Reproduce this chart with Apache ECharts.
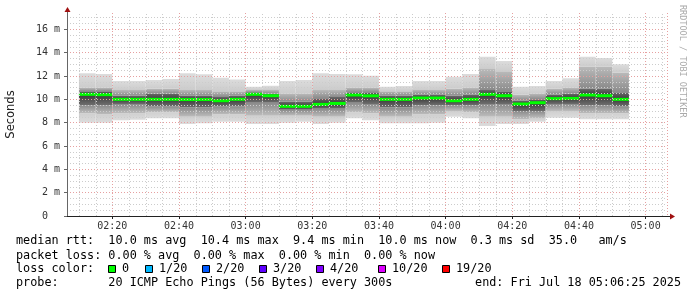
<!DOCTYPE html>
<html>
	<head>
		<meta charset="UTF-8">
		<title>smokeping</title>
		<style>
			html, body { margin: 0; padding: 0; background: #fff; }
			#chart { width: 697px; height: 297px; }
		</style>
	</head>
	<body>
		<div id="chart"></div>

		<script src="https://cdn.jsdelivr.net/npm/echarts@6.0.0/dist/echarts.min.js"></script>
		<script>
			// 5 分钟一个采样，起始时间
			var slots = ['02:10', '02:15', '02:20', '02:25', '02:30', '02:35', '02:40', '02:45', '02:50', '02:55',
				'03:00', '03:05', '03:10', '03:15', '03:20', '03:25', '03:30', '03:35', '03:40', '03:45',
				'03:50', '03:55', '04:00', '04:05', '04:10', '04:15', '04:20', '04:25', '04:30', '04:35',
				'04:40', '04:45', '04:50'];

			// rtt (ms): 最小、分位、中位、最大
			var rttMin = [8.0, 8.0, 8.2, 8.25, 8.37, 8.37, 7.88, 7.95, 8.08, 8.08, 7.88, 7.88, 8.0, 8.08, 7.88, 8.0, 8.37, 8.2, 7.95, 7.95, 7.95, 8.0, 8.5, 8.37, 7.71, 7.88, 7.88, 8.08, 8.43, 8.43, 8.3, 8.3, 8.3];
			var rttP10 = [8.8, 8.7, 8.8, 8.8, 8.9, 8.9, 8.5, 8.5, 8.7, 8.7, 8.6, 8.6, 8.6, 8.6, 8.5, 8.5, 8.9, 8.8, 8.5, 8.5, 8.7, 8.7, 9.0, 8.9, 8.5, 8.5, 8.3, 8.4, 9.0, 9.0, 8.8, 8.8, 8.8];
			var rttP30 = [9.5, 9.5, 9.6, 9.6, 9.4, 9.4, 9.3, 9.3, 9.4, 9.4, 9.7, 9.7, 9.1, 9.1, 9.2, 9.2, 9.7, 9.6, 9.3, 9.3, 9.5, 9.5, 9.5, 9.5, 9.6, 9.6, 9.0, 9.0, 9.6, 9.6, 9.5, 9.5, 9.4];
			var rttMedian = [10.43, 10.4, 10.0, 10.0, 10.0, 10.0, 9.98, 9.98, 9.88, 10.0, 10.43, 10.31, 9.4, 9.4, 9.57, 9.65, 10.37, 10.3, 10.0, 10.0, 10.11, 10.11, 9.88, 10.0, 10.43, 10.31, 9.6, 9.71, 10.06, 10.08, 10.37, 10.31, 10.0];
			var rttP70 = [10.7, 10.7, 10.3, 10.3, 10.5, 10.5, 10.3, 10.3, 10.2, 10.3, 10.6, 10.5, 9.8, 9.8, 10.1, 10.2, 10.6, 10.6, 10.3, 10.3, 10.4, 10.4, 10.3, 10.4, 10.8, 10.7, 9.9, 10.0, 10.4, 10.5, 10.9, 10.9, 10.6];
			var rttP90 = [11.0, 11.0, 10.8, 10.8, 10.9, 10.9, 10.8, 10.8, 10.7, 10.7, 10.8, 10.8, 10.5, 10.5, 10.8, 10.8, 11.0, 11.0, 10.7, 10.7, 10.8, 10.8, 10.9, 11.0, 12.6, 12.4, 10.4, 10.5, 10.9, 11.0, 12.8, 12.8, 12.3];
			var rttMax = [12.23, 12.17, 11.57, 11.57, 11.65, 11.74, 12.23, 12.14, 11.85, 11.7, 11.08, 11.17, 11.57, 11.65, 12.23, 12.17, 12.14, 12.03, 11.08, 11.14, 11.57, 11.57, 11.94, 12.17, 13.65, 13.28, 11.08, 11.14, 11.57, 11.8, 13.65, 13.54, 13.0];

			// 图例
			var lossLabels = ['0', '1/20', '2/20', '3/20', '4/20', '10/20', '19/20'];
			var lossColors = ['#00ff00', '#00b8ff', '#0059ff', '#5e00ff', '#7e00ff', '#dd00ff', '#ff0000'];
			var lossLabelX = [122, 159, 216, 273, 330, 392, 456];
			var legendLines = [
				'median rtt:  10.0 ms avg  10.4 ms max  9.4 ms min  10.0 ms now  0.3 ms sd  35.0   am/s',
				'packet loss: 0.00 % avg  0.00 % max  0.00 % min  0.00 % now',
				'loss color:',
				'probe:       20 ICMP Echo Pings (56 Bytes) every 300s'
			];

			var STEP = 5 * 60 * 1000;
			function toTime(hhmm, sec) {
				var p = hhmm.split(':');
				return new Date(2025, 6, 18, +p[0], +p[1], sec || 0).getTime();
			}
			var tMin = toTime('02:06', 25);
			var tMax = toTime('05:06', 25);
			var yMax = 17.4;

			var smokeData = [];
			for (var i = 0; i < slots.length; i++) {
				var t0 = toTime(slots[i]);
				smokeData.push([t0, t0 + STEP, rttMin[i], rttP10[i], rttP30[i], rttMedian[i], rttP70[i], rttP90[i], rttMax[i]]);
			}

			// 5 分钟的次网格线
			var minorTimes = [];
			for (var t = toTime('02:10'); t < tMax; t += STEP) {
				if (((t - toTime('02:00')) / STEP) % 4 !== 0) minorTimes.push([t]);
			}

			function grad(c0, c1) {
				return { type: 'linear', x: 0, y: 0, x2: 0, y2: 1, colorStops: [{ offset: 0, color: c0 }, { offset: 1, color: c1 }] };
			}
			// 由外到内颜色渐深
			var bandFills = [
				grad('#cfcfcf', '#dcdcdc'),
				grad('#8a8a8a', '#bdbdbd'),
				grad('#3a3a3a', '#6e6e6e'),
				grad('#6a6a6a', '#3a3a3a'),
				grad('#bababa', '#8a8a8a'),
				grad('#dcdcdc', '#cccccc')
			];
			var bandIdx = [[2, 3], [3, 4], [4, 5], [5, 6], [6, 7], [7, 8]];

			function renderSmoke(params, api) {
				var x0 = api.coord([api.value(0), 0])[0];
				var x1 = api.coord([api.value(1), 0])[0];
				var children = [];
				for (var k = 0; k < bandIdx.length; k++) {
					var yLo = api.coord([api.value(0), api.value(bandIdx[k][0])])[1];
					var yHi = api.coord([api.value(0), api.value(bandIdx[k][1])])[1];
					children.push({
						type: 'rect',
						shape: { x: x0, y: yHi, width: x1 - x0, height: yLo - yHi },
						style: { fill: bandFills[k] }
					});
				}
				return { type: 'group', children: children };
			}

			function renderMedian(params, api) {
				var x0 = api.coord([api.value(0), 0])[0];
				var x1 = api.coord([api.value(1), 0])[0];
				var y = api.coord([api.value(0), api.value(5)])[1];
				return {
					type: 'rect',
					shape: { x: x0, y: y - 1.5, width: x1 - x0, height: 3 },
					style: { fill: lossColors[0] }
				};
			}

			function renderMinor(params, api) {
				var p0 = api.coord([api.value(0), 0]);
				var p1 = api.coord([api.value(0), yMax]);
				return {
					type: 'line',
					shape: { x1: Math.round(p0[0]) + 0.5, y1: p0[1], x2: Math.round(p0[0]) + 0.5, y2: p1[1] },
					style: { stroke: '#cccccc', lineWidth: 1, lineDash: [1, 2] }
				};
			}

			var mono = 'DejaVu Sans Mono';
			var majorGrid = { color: '#e6a0a0', type: [1, 2], width: 1 };
			var minorGrid = { color: '#cccccc', type: [1, 2], width: 1 };
			var legendFont = '11.8px "DejaVu Sans Mono"';

			var graphics = [];
			var lineY = [241, 255.5, 269, 283];
			for (var j = 0; j < legendLines.length; j++) {
				graphics.push({
					type: 'text', x: 16, y: lineY[j],
					style: { text: legendLines[j], font: legendFont, fill: '#000', verticalAlign: 'middle' }
				});
			}
			for (var m = 0; m < lossLabels.length; m++) {
				graphics.push({
					type: 'rect',
					shape: { x: lossLabelX[m] - 13.5, y: 265.5, width: 7, height: 7 },
					style: { fill: lossColors[m], stroke: '#000', lineWidth: 1 }
				});
				graphics.push({
					type: 'text', x: lossLabelX[m], y: 269,
					style: { text: lossLabels[m], font: legendFont, fill: '#000', verticalAlign: 'middle' }
				});
			}
			graphics.push({
				type: 'text', x: 681, y: 283,
				style: { text: 'end: Fri Jul 18 05:06:25 2025', font: legendFont, fill: '#000', align: 'right', verticalAlign: 'middle' }
			});
			graphics.push({
				type: 'text', x: 682, y: 5, rotation: -Math.PI / 2,
				style: { text: 'RRDTOOL / TOBI OETIKER', font: '8.5px "DejaVu Sans Mono"', fill: '#aaaaaa', verticalAlign: 'middle' }
			});

			var myChart = echarts.init(document.getElementById('chart'), null, { renderer: 'canvas' });

			var option = {
				backgroundColor: '#ffffff',
				animation: false,
				grid: { left: 67, right: 30, top: 13, bottom: 81, outerBoundsMode: 'none', containLabel: false },
				xAxis: {
					type: 'time',
					z: 5,
					min: tMin,
					max: tMax,
					minInterval: 21 * 60 * 1000,
					maxInterval: 21 * 60 * 1000,
					axisLine: { lineStyle: { color: '#222' } },
					axisTick: { show: true, length: 3, lineStyle: { color: '#222' } },
					axisLabel: { formatter: '{HH}:{mm}', fontFamily: mono, fontSize: 10, color: '#333', margin: 5 },
					splitLine: { show: true, lineStyle: majorGrid }
				},
				yAxis: [{
					type: 'value',
					z: 5,
					min: 0,
					max: yMax,
					interval: 2,
					name: 'Seconds',
					nameLocation: 'middle',
					nameGap: 50,
					nameTextStyle: { fontFamily: 'DejaVu Sans', fontSize: 11.5, color: '#222' },
					axisLine: { show: true, lineStyle: { color: '#666' } },
					axisTick: { show: true, length: 3, lineStyle: { color: '#666' } },
					axisLabel: {
						fontFamily: mono, fontSize: 10, color: '#333', margin: 7, showMaxLabel: false,
						formatter: function (v) { return v === 0 ? '0  ' : v + ' m'; }
					},
					splitLine: { show: true, showMaxLine: false, showMinLine: false, lineStyle: majorGrid }
				}, {
					type: 'value',
					z: 4,
					min: 0,
					max: yMax,
					interval: 0.5,
					position: 'left',
					axisLine: { show: false },
					axisTick: { show: false },
					axisLabel: { show: false },
					splitLine: { show: true, showMaxLine: false, showMinLine: false, lineStyle: minorGrid }
				}],
				series: [{
					name: 'smoke',
					type: 'custom',
					z: 1,
					renderItem: renderSmoke,
					encode: { x: [0, 1], y: [2, 8] },
					data: smokeData,
					silent: true
				}, {
					name: 'median',
					type: 'custom',
					z: 2,
					renderItem: renderMedian,
					encode: { x: [0, 1], y: 5 },
					data: smokeData,
					silent: true
				}, {
					name: 'minorGrid',
					type: 'custom',
					z: 3,
					renderItem: renderMinor,
					encode: { x: 0 },
					data: minorTimes,
					silent: true
				}],
				graphic: graphics
			};

			myChart.setOption(option);

			// 坐标轴末端的红色箭头
			var o = myChart.convertToPixel({ gridIndex: 0 }, [tMin, 0]);
			var e = myChart.convertToPixel({ gridIndex: 0 }, [tMax, yMax]);
			var ax = Math.round(o[0]) + 0.5, ay = Math.round(o[1]) + 0.5;
			graphics.push({ type: 'line', shape: { x1: e[0], y1: ay, x2: e[0] + 4, y2: ay }, style: { stroke: '#222', lineWidth: 1 } });
			graphics.push({ type: 'polygon', shape: { points: [[e[0] + 3, ay - 3], [e[0] + 8, ay], [e[0] + 3, ay + 3]] }, style: { fill: '#a01010' } });
			graphics.push({ type: 'line', shape: { x1: ax, y1: e[1], x2: ax, y2: e[1] - 2 }, style: { stroke: '#666', lineWidth: 1 } });
			graphics.push({ type: 'polygon', shape: { points: [[ax - 3, e[1] - 1], [ax, e[1] - 6], [ax + 3, e[1] - 1]] }, style: { fill: '#a01010' } });
			myChart.setOption({ graphic: graphics });
		</script>
	</body>
</html>
